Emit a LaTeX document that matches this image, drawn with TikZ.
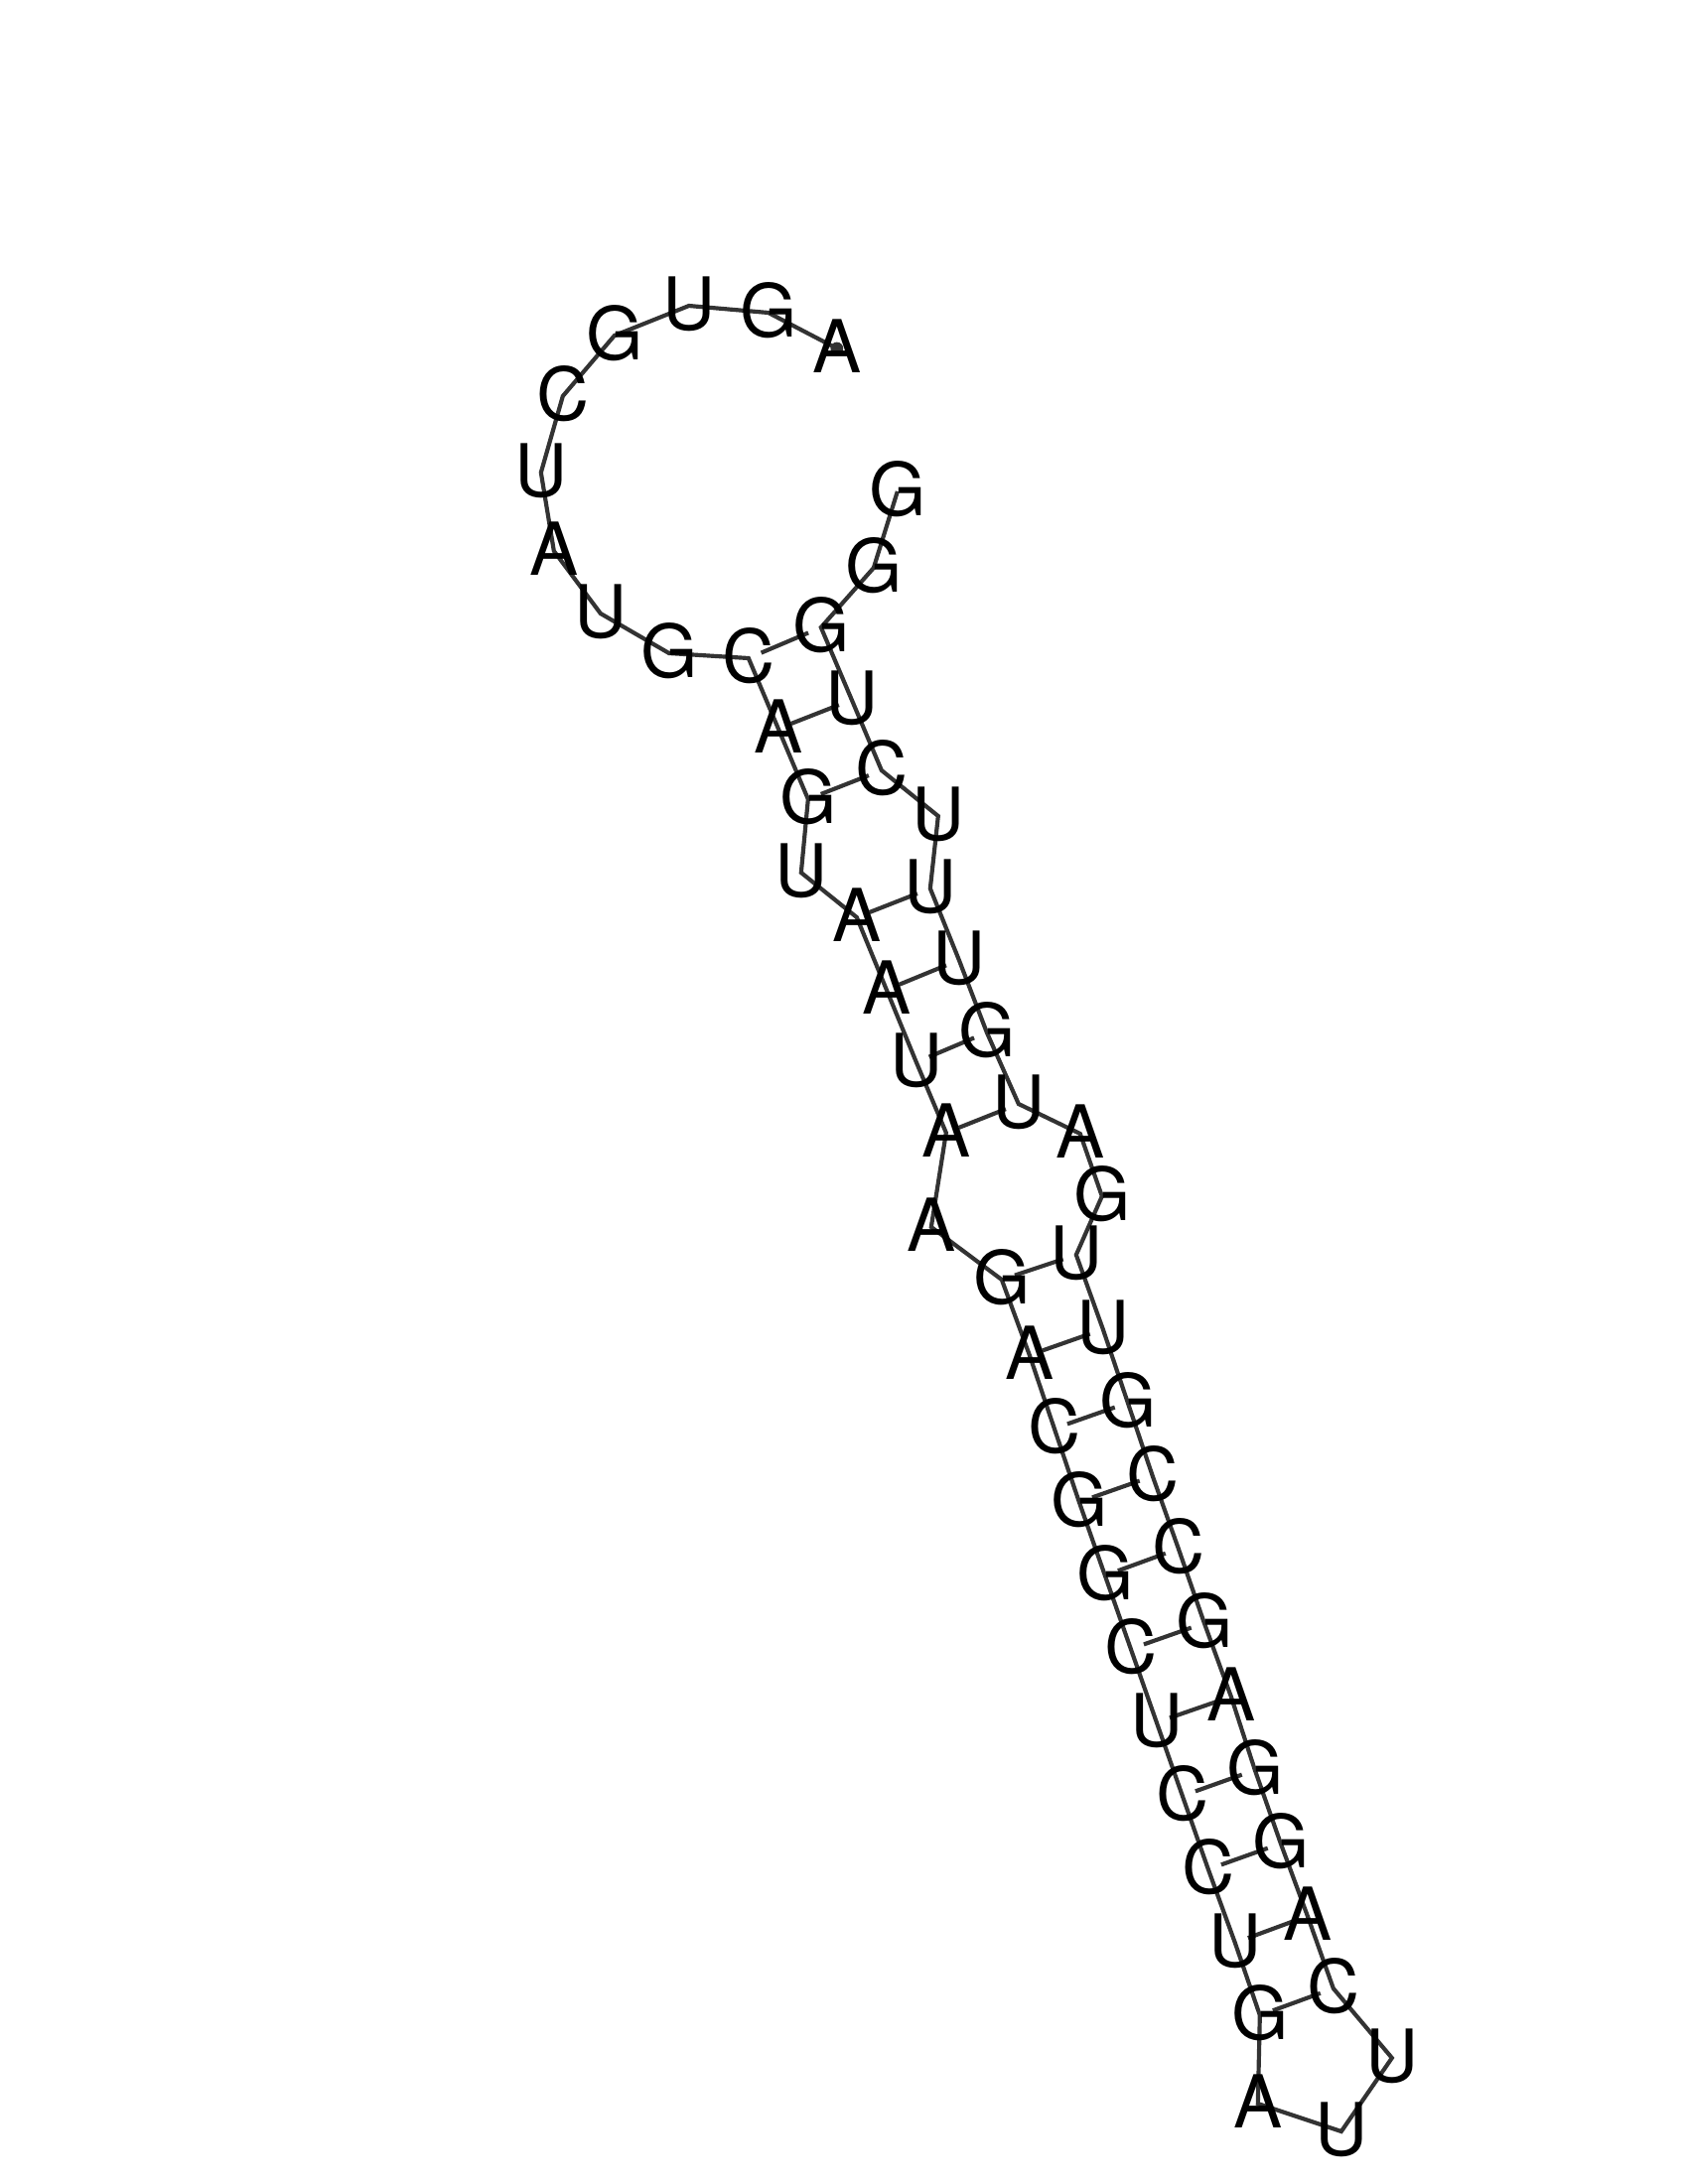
\documentclass[tikz,border=0pt]{standalone}
\usepackage{fontspec}
\setmainfont{TeX Gyre Heros}
\usetikzlibrary{backgrounds}
\tikzstyle{base} = [inner sep=0pt, outer sep=0pt, text height=17.9bp, text depth=0pt, xshift=0.3bp, font=\fontsize{26.5bp}{26.5bp}\selectfont, text=black]
\tikzstyle{line} = [draw, color=black!80, line width=1.5bp]
\tikzstyle{pairline} = [line, shorten >=5bp, shorten <=5bp]
\begin{document}
\begin{tikzpicture}[x=0.36bp, y=-0.36bp]
    \useasboundingbox (0,0) rectangle (1700,2200);

    % Create Bases
    \node [base] (b1) at (842,351) {A};
    \node [base] (b2) at (773,315) {G};
    \node [base] (b3) at (693,308) {U};
    \node [base] (b4) at (618,338) {G};
    \node [base] (b5) at (566,399) {C};
    \node [base] (b6) at (544,476) {U};
    \node [base] (b7) at (557,555) {A};
    \node [base] (b8) at (604,618) {U};
    \node [base] (b9) at (673,658) {G};
    \node [base] (b10) at (753,663) {C};
    \node [base] (b11) at (783,734) {A};
    \node [base] (b12) at (813,805) {G};
    \node [base] (b13) at (806,879) {U};
    \node [base] (b14) at (862,924) {A};
    \node [base] (b15) at (892,997) {A};
    \node [base] (b16) at (922,1070) {U};
    \node [base] (b17) at (952,1141) {A};
    \node [base] (b18) at (937,1236) {A};
    \node [base] (b19) at (1008,1289) {G};
    \node [base] (b20) at (1036,1365) {A};
    \node [base] (b21) at (1061,1439) {C};
    \node [base] (b22) at (1086,1513) {G};
    \node [base] (b23) at (1112,1587) {G};
    \node [base] (b24) at (1138,1661) {C};
    \node [base] (b25) at (1164,1735) {U};
    \node [base] (b26) at (1190,1809) {C};
    \node [base] (b27) at (1216,1883) {C};
    \node [base] (b28) at (1243,1957) {U};
    \node [base] (b29) at (1268,2030) {G};
    \node [base] (b30) at (1266,2119) {A};
    \node [base] (b31) at (1350,2147) {U};
    \node [base] (b32) at (1401,2073) {U};
    \node [base] (b33) at (1342,2003) {C};
    \node [base] (b34) at (1316,1930) {A};
    \node [base] (b35) at (1289,1857) {G};
    \node [base] (b36) at (1263,1783) {G};
    \node [base] (b37) at (1239,1709) {A};
    \node [base] (b38) at (1212,1635) {G};
    \node [base] (b39) at (1186,1560) {C};
    \node [base] (b40) at (1160,1487) {C};
    \node [base] (b41) at (1135,1413) {G};
    \node [base] (b42) at (1110,1339) {U};
    \node [base] (b43) at (1083,1264) {U};
    \node [base] (b44) at (1109,1205) {G};
    \node [base] (b45) at (1087,1142) {A};
    \node [base] (b46) at (1025,1112) {U};
    \node [base] (b47) at (993,1040) {G};
    \node [base] (b48) at (965,967) {U};
    \node [base] (b49) at (936,895) {U};
    \node [base] (b50) at (944,822) {U};
    \node [base] (b51) at (887,776) {C};
    \node [base] (b52) at (857,705) {U};
    \node [base] (b53) at (826,632) {G};
    \node [base] (b54) at (879,572) {G};
    \node [base] (b55) at (903,495) {G};

    \begin{scope}[on background layer]
    % Add Backbone
    \path [line] (b1.center) -- (b2.center) -- (b3.center) -- (b4.center) -- (b5.center) -- (b6.center) -- (b7.center) -- (b8.center) -- (b9.center) -- (b10.center)
        -- (b11.center) -- (b12.center) -- (b13.center) -- (b14.center) -- (b15.center) -- (b16.center) -- (b17.center) -- (b18.center) -- (b19.center) -- (b20.center)
        -- (b21.center) -- (b22.center) -- (b23.center) -- (b24.center) -- (b25.center) -- (b26.center) -- (b27.center) -- (b28.center) -- (b29.center) -- (b30.center)
        -- (b31.center) -- (b32.center) -- (b33.center) -- (b34.center) -- (b35.center) -- (b36.center) -- (b37.center) -- (b38.center) -- (b39.center) -- (b40.center)
        -- (b41.center) -- (b42.center) -- (b43.center) -- (b44.center) -- (b45.center) -- (b46.center) -- (b47.center) -- (b48.center) -- (b49.center) -- (b50.center)
        -- (b51.center) -- (b52.center) -- (b53.center) -- (b54.center) -- (b55.center);

    % Add Pairs
    \path [pairline] (b10.center) -- (b53.center);
    \path [pairline] (b11.center) -- (b52.center);
    \path [pairline] (b12.center) -- (b51.center);
    \path [pairline] (b14.center) -- (b49.center);
    \path [pairline] (b15.center) -- (b48.center);
    \path [pairline] (b16.center) -- (b47.center);
    \path [pairline] (b17.center) -- (b46.center);
    \path [pairline] (b19.center) -- (b43.center);
    \path [pairline] (b20.center) -- (b42.center);
    \path [pairline] (b21.center) -- (b41.center);
    \path [pairline] (b22.center) -- (b40.center);
    \path [pairline] (b23.center) -- (b39.center);
    \path [pairline] (b24.center) -- (b38.center);
    \path [pairline] (b25.center) -- (b37.center);
    \path [pairline] (b26.center) -- (b36.center);
    \path [pairline] (b27.center) -- (b35.center);
    \path [pairline] (b28.center) -- (b34.center);
    \path [pairline] (b29.center) -- (b33.center);

    % Start Mark
    \fill [color=black!80] (b1.center) circle (2.3bp);
    \end{scope}
\end{tikzpicture}
\end{document}
